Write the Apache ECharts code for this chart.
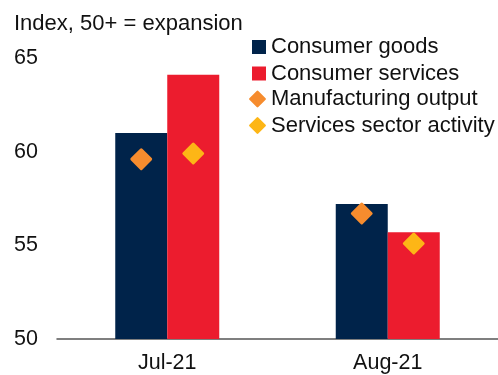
<!DOCTYPE html>
<html>
<head>
<meta charset="utf-8">
<script src="https://cdn.jsdelivr.net/npm/echarts@6/dist/echarts.min.js"></script>
<style>
  html, body { margin: 0; padding: 0; background: #fff; }
  #chart { width: 498px; height: 375px; }
</style>
</head>
<body>
<div id="chart"></div>
<script>
// Months on the category axis
const months = ['Jul-21', 'Aug-21'];

// Consumer spending indices (bars)
const consumerGoods = [61.0, 57.2];
const consumerServices = [64.1, 55.7];

// Business activity indices (diamonds)
const manufacturingOutput = [59.6, 56.7];
const servicesActivity = [59.9, 55.1];

// Value axis ticks
const yTicks = [50, 55, 60, 65];

const FONT = '"Liberation Sans", Arial, sans-serif';
const NAVY = '#00234A';
const RED = '#EC1C2E';
const ORANGE = '#F68C2E';
const YELLOW = '#FDB616';
const BAR_W = 52;
const TEXT = '#111';

// Rounded-corner diamond marker
const ROUND_DIAMOND = 'path://M10,1 Q11,0 12,1 L21,10 Q22,11 21,12 L12,21 Q11,22 10,21 L1,12 Q0,11 1,10 Z';

const chart = echarts.init(document.getElementById('chart'), null, { renderer: 'canvas' });

const legendText = { fontFamily: FONT, fontSize: 22, color: TEXT, lineHeight: 22 };

chart.setOption({
  animation: false,
  backgroundColor: '#fff',
  textStyle: { fontFamily: FONT },
  title: {
    text: 'Index, 50+ = expansion',
    left: 14,
    top: 13,
    padding: 0,
    textStyle: { fontFamily: FONT, fontSize: 22, fontWeight: 'normal', color: TEXT, lineHeight: 22 }
  },
  legend: [
    {
      data: [
        { name: 'Consumer goods', icon: 'rect' },
        { name: 'Consumer services', icon: 'rect' }
      ],
      orient: 'vertical',
      left: 252,
      top: 36,
      padding: 0,
      itemWidth: 14,
      itemHeight: 14,
      itemGap: 4.5,
      textStyle: legendText
    },
    {
      data: [
        { name: 'Manufacturing output', icon: ROUND_DIAMOND },
        { name: 'Services sector activity', icon: ROUND_DIAMOND }
      ],
      orient: 'vertical',
      left: 249,
      top: 88,
      padding: 0,
      itemWidth: 17,
      itemHeight: 17,
      itemGap: 4.5,
      textStyle: legendText
    }
  ],
  grid: { left: 57, right: -3, top: 58, bottom: 36, containLabel: false },
  xAxis: {
    type: 'category',
    data: months,
    axisLine: { show: true, lineStyle: { color: '#555', width: 1.5 } },
    axisTick: { show: false },
    axisLabel: { fontFamily: FONT, fontSize: 21.5, color: TEXT, margin: 13 }
  },
  yAxis: {
    type: 'value',
    min: yTicks[0],
    max: yTicks[yTicks.length - 1],
    interval: yTicks[1] - yTicks[0],
    splitLine: { show: false },
    axisLine: { show: false },
    axisTick: { show: false },
    axisLabel: { fontFamily: FONT, fontSize: 21.5, color: TEXT, align: 'left', margin: 43 }
  },
  series: [
    {
      name: 'Consumer goods',
      type: 'bar',
      data: consumerGoods,
      barWidth: BAR_W,
      barGap: '0%',
      itemStyle: { color: NAVY }
    },
    {
      name: 'Consumer services',
      type: 'bar',
      data: consumerServices,
      barWidth: BAR_W,
      barGap: '0%',
      itemStyle: { color: RED }
    },
    {
      name: 'Manufacturing output',
      type: 'scatter',
      data: manufacturingOutput,
      symbol: ROUND_DIAMOND,
      symbolSize: 22,
      symbolOffset: [-BAR_W / 2, 0],
      itemStyle: { color: ORANGE, opacity: 1 },
      z: 5
    },
    {
      name: 'Services sector activity',
      type: 'scatter',
      data: servicesActivity,
      symbol: ROUND_DIAMOND,
      symbolSize: 22,
      symbolOffset: [BAR_W / 2, 0],
      itemStyle: { color: YELLOW, opacity: 1 },
      z: 5
    }
  ]
});
</script>
</body>
</html>
